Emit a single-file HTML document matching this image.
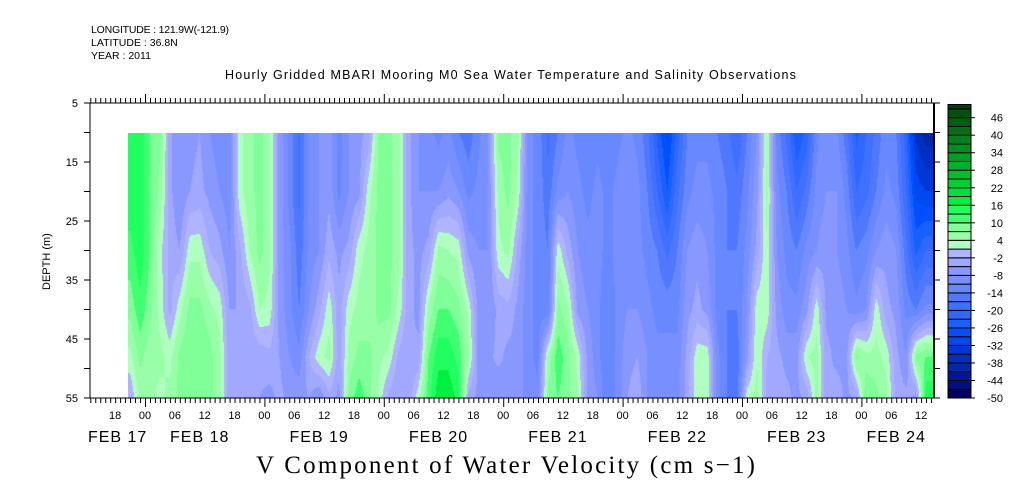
<!DOCTYPE html>
<html><head><meta charset="utf-8"><style>
body{margin:0;background:#fff;width:1009px;height:504px;overflow:hidden;position:relative;font-family:"Liberation Sans",sans-serif}
.t{position:absolute;white-space:nowrap;color:#000}
canvas{position:absolute}
</style></head><body>
<div class="t" style="left:91px;top:24px;font-size:10.5px;letter-spacing:-0.2px">LONGITUDE : 121.9W(-121.9)</div>
<div class="t" style="left:91px;top:37px;font-size:10.5px">LATITUDE : 36.8N</div>
<div class="t" style="left:91px;top:50px;font-size:10.5px">YEAR : 2011</div>
<div class="t" style="left:225px;top:68px;font-size:12.5px;letter-spacing:1.2px">Hourly Gridded MBARI Mooring M0 Sea Water Temperature and Salinity Observations</div>
<div class="t" style="left:256px;top:452px;font-size:25px;letter-spacing:2.2px;font-family:'Liberation Serif',serif">V Component of Water Velocity (cm s−1)</div>
<div class="t" style="left:41px;top:290px;font-size:11px;transform:rotate(-90deg);transform-origin:0 0">DEPTH (m)</div>
<canvas id="hm" width="806" height="265" style="left:128px;top:133px"></canvas>
<svg id="ax" width="1009" height="504" style="position:absolute;left:0;top:0"></svg>
<script>
const hours=[];for(let i=0;i<81;i++)hours.push(-3+2*i);
const depths=[10,20,30,40,48,55];
const d10=[15,15,10,8,-4,-8,-6,-5,-8,-10,-10,3,6,8,5,-6,-12,-18,-10,-8,-6,-12,-8,-6,-4,8,8,5,-4,-8,-10,-12,-10,-14,-16,-12,-8,8,8,5,-10,-12,-18,-14,-10,-12,-14,-12,-14,-12,-10,-12,-16,-24,-30,-22,-14,-12,-12,-14,-16,-20,-14,-8,5,-12,-18,-26,-22,-12,-8,-10,-16,-24,-20,-16,-12,-14,-22,-36,-40];
const d20=[15,15,10,6,-4,-8,-5,-4,-6,-8,-10,3,6,8,5,-6,-12,-18,-10,-8,-6,-12,-8,-6,3,8,8,5,-4,-8,-8,-8,-6,-8,-12,-10,-8,5,8,3,-10,-12,-16,-10,-8,-10,-12,-10,-12,-10,-8,-10,-14,-20,-26,-18,-12,-10,-10,-12,-14,-16,-12,-6,5,-10,-14,-20,-16,-10,-8,-8,-12,-20,-18,-14,-10,-12,-20,-30,-32];
const d30=[12,15,10,2,-3,-5,3,3,-2,-4,-8,-3,4,8,5,-6,-10,-16,-10,-8,-3,-6,-4,3,5,8,8,5,-4,-6,-4,5,4,3,-6,-8,-8,3,5,-3,-10,-12,-14,3,-3,-8,-10,-10,-12,-10,-8,-10,-12,-14,-18,-14,-8,-6,-8,-12,-14,-14,-10,-4,4,-8,-12,-14,-10,-8,-6,-8,-10,-14,-12,-8,-6,-8,-16,-24,-20];
const d40=[8,12,8,3,-3,3,8,8,5,3,-5,-5,-3,4,3,-6,-10,-14,-8,-3,3,-4,3,5,5,8,8,3,-4,-6,5,10,10,8,3,-6,-8,-4,-3,-6,-10,-12,-14,8,5,-6,-8,-10,-14,-10,-8,-8,-10,-12,-12,-12,-6,-4,-6,-12,-14,-14,-8,3,3,-6,-10,-10,-6,3,-6,-6,-8,-10,-8,3,-4,-6,-12,-14,-10];
const d48=[3,8,5,5,3,8,10,10,8,5,-4,-5,-5,-4,-3,-5,-8,-10,-2,3,5,-4,5,8,8,5,3,-3,-5,-4,10,15,15,12,5,-6,-6,-4,-6,-6,-10,-12,5,12,8,3,-6,-10,-14,-10,-6,-5,-8,-10,-10,-10,-4,3,3,-10,-14,-16,-6,4,-2,-4,-6,-6,4,5,-4,-6,-6,8,5,5,3,-4,-8,8,10];
const d55=[-2,5,5,3,5,8,10,8,8,5,-4,-5,-5,-5,-6,-4,-6,-6,-5,-8,-3,-6,8,12,8,3,-3,-5,-4,3,12,18,18,15,-3,-6,-6,-8,-6,-8,-8,-10,8,10,8,4,-6,-8,-14,-10,-5,-3,-8,-10,-10,-10,-3,3,3,-10,-14,-16,3,5,-3,-4,-4,-6,-4,5,-5,-3,-6,-4,10,8,5,-3,-4,-6,15,15];
const levelColors=["#000060","#001080","#001898","#0028a8","#0030c0","#0038d8","#0048f0","#0050ff","#1860ff","#3068ff","#4070ff","#5078ff","#6888ff","#7890ff","#8898ff","#a0a8ff","#b0b4ff","#b0ffc0","#98ffa8","#80ff98","#40ff70","#20ff60","#00f040","#00e040","#00d038","#00c030","#00b030","#00a028","#009020","#008020","#007018","#006010","#005010","#004008"];
const levelLabels=[46,40,34,28,22,16,10,4,-2,-8,-14,-20,-26,-32,-38,-44,-50];
const hourTickLabels=["18","00","06","12","18","00","06","12","18","00","06","12","18","00","06","12","18","00","06","12","18","00","06","12","18","00","06","12","18","00","06","12"];
const dayLabels=["FEB 17","FEB 18","FEB 19","FEB 20","FEB 21","FEB 22","FEB 23","FEB 24"];
const dayLabelHours=[-5.5,11,35,59,83,107,131,151];
const depthTicks=[5,15,25,35,45,55];
const rows=[d10,d20,d30,d40,d48,d55];

const X0=90,X1=934,Y0=103,Y1=398;
function xs(h){return 145+4.975*h;}
function ys(d){return Y0+(d-5)*(Y1-Y0)/50;}
function colorOf(v){let i=Math.floor((v+50)/3);i=Math.max(0,Math.min(33,i));return levelColors[i];}
function hexRGB(c){return [parseInt(c.substr(1,2),16),parseInt(c.substr(3,2),16),parseInt(c.substr(5,2),16)];}

const cv=document.getElementById('hm'),ctx=cv.getContext('2d');
const hmX=128,hmY=133;
const img=ctx.createImageData(cv.width,cv.height);
for(let px=0;px<cv.width;px++){
  const h=(px+hmX+0.5-145)/4.975;
  let i=0;while(i<hours.length-2&&hours[i+1]<h)i++;
  let fx=(h-hours[i])/(hours[i+1]-hours[i]);fx=Math.max(0,Math.min(1,fx));
  for(let py=0;py<cv.height;py++){
    const d=5+(py+hmY+0.5-Y0)*50/(Y1-Y0);
    let j=0;while(j<depths.length-2&&depths[j+1]<d)j++;
    let fy=(d-depths[j])/(depths[j+1]-depths[j]);fy=Math.max(0,Math.min(1,fy));
    const a=rows[j][i]*(1-fx)+rows[j][i+1]*fx;
    const b=rows[j+1][i]*(1-fx)+rows[j+1][i+1]*fx;
    const v=a*(1-fy)+b*fy;
    const c=hexRGB(colorOf(v));
    const k=(py*cv.width+px)*4;
    img.data[k]=c[0];img.data[k+1]=c[1];img.data[k+2]=c[2];img.data[k+3]=255;
  }
}
ctx.putImageData(img,0,0);

const svg=document.getElementById('ax');const NS='http://www.w3.org/2000/svg';
function el(tag,at){const e=document.createElementNS(NS,tag);for(const k in at)e.setAttribute(k,at[k]);svg.appendChild(e);return e;}
let e;
e=el('rect',{x:X0,y:Y0,width:X1-X0,height:Y1-Y0,fill:'none',stroke:'#000','stroke-width':1});


el('line',{x1:X1,y1:Y0,x2:X1,y2:Y1,stroke:'#000','stroke-width':2});
for(let h=-11;h<=158;h++){
  const x=xs(h)+0.5;const major=(h%24===0);
  el('line',{x1:x,y1:Y1,x2:x,y2:Y1+(major?9:5),stroke:'#000','stroke-width':1});
  el('line',{x1:x,y1:Y0,x2:x,y2:Y0-(major?9:5),stroke:'#000','stroke-width':1});
}
hourTickLabels.forEach((s,k)=>{
  const h=-6+6*k;if(h>156)return;
  const t=el('text',{x:xs(h),y:419,'font-size':11,'text-anchor':'middle','font-family':'Liberation Sans, sans-serif'});t.textContent=s;
  
  
});
dayLabels.forEach((s,k)=>{
  const t=el('text',{x:xs(dayLabelHours[k]),y:442,'font-size':16,'letter-spacing':1,'text-anchor':'middle','font-family':'Liberation Sans, sans-serif'});t.textContent=s;
  
  
});
for(let d=5;d<=55;d+=5){
  const y=ys(d);
  el('line',{x1:X0-6,y1:y,x2:X0,y2:y,stroke:'#000'});
  el('line',{x1:X1,y1:y,x2:X1+6,y2:y,stroke:'#000'});
}
depthTicks.forEach(d=>{
  const t=el('text',{x:X0-12,y:ys(d)+4,'font-size':11,'text-anchor':'end','font-family':'Liberation Sans, sans-serif'});t.textContent=d;
  
  
});
const cbX=948,cbW=23,cbBot=398,n=levelColors.length,ch=2.92*3;
levelColors.forEach((c,i)=>{
  let top=cbBot-(i+1)*ch;if(top<104.5)top=104.5;
  const r=el('rect',{x:cbX,y:top,width:cbW,height:cbBot-i*ch-top,fill:c,stroke:'#000','stroke-width':1});
  
  
});
levelLabels.forEach(v=>{
  const y=cbBot-(v+50)/3*ch;
  el('line',{x1:cbX+cbW,y1:y,x2:cbX+cbW+4,y2:y,stroke:'#000'});
  const t=el('text',{x:1003,y:y+4,'font-size':11,'text-anchor':'end','font-family':'Liberation Sans, sans-serif'});t.textContent=v;
  
  
});
</script>
</body></html>
